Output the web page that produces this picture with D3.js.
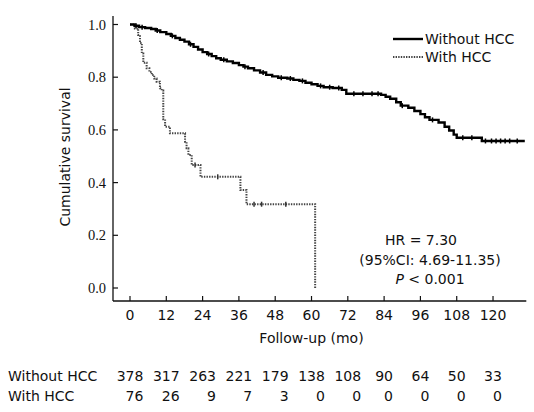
<!DOCTYPE html>
<html>
<head>
<meta charset="utf-8">
<script src="https://cdn.jsdelivr.net/npm/d3@7/dist/d3.min.js"></script>
<style>
  html, body { margin: 0; padding: 0; background: #fff; }
  svg { display: block; }
  .sans { font-family: "DejaVu Sans", Verdana, sans-serif; font-size: 14px; fill: #111; }
  .serif { font-family: "Liberation Serif", "Times New Roman", serif; font-size: 14.5px; fill: #111; }
</style>
</head>
<body>
<svg id="chart" width="534" height="412"></svg>
<script>
// ---- data ----
const xTicks = [0, 12, 24, 36, 48, 60, 72, 84, 96, 108, 120];
const yTicks = [0.0, 0.2, 0.4, 0.6, 0.8, 1.0];
const groups = ["Without HCC", "With HCC"];

const withoutTimes = [0, 1.5, 3, 5, 7, 8.5, 10, 12, 13.5, 15, 16.5, 18, 19.5, 21, 22.5, 24, 25.5, 27, 28.5, 30, 32, 34, 36, 37.5, 39, 41, 43, 45, 47, 49, 52, 54, 56, 58, 60, 62, 64, 67, 70, 71.5, 83, 84.5, 86, 88, 89.5, 92, 94, 96, 97.5, 99, 102, 104, 105.5, 107, 108, 116.3, 130.5];
const withoutSurv  = [1.0, 0.995, 0.99, 0.987, 0.983, 0.977, 0.971, 0.964, 0.957, 0.949, 0.942, 0.935, 0.925, 0.915, 0.905, 0.895, 0.888, 0.88, 0.872, 0.866, 0.86, 0.854, 0.846, 0.84, 0.834, 0.826, 0.818, 0.809, 0.803, 0.798, 0.795, 0.79, 0.786, 0.779, 0.773, 0.767, 0.762, 0.759, 0.752, 0.737, 0.733, 0.726, 0.718, 0.705, 0.692, 0.684, 0.672, 0.66, 0.648, 0.638, 0.628, 0.612, 0.598, 0.582, 0.57, 0.558, 0.558];
const withoutCensor = [2, 4, 9, 14, 20, 26, 31, 38, 44, 50, 53, 57, 63, 66, 69, 74, 77, 80, 82, 90, 100, 110, 113, 117.5, 119.5, 121, 122.5, 124, 125.5, 128];

const withTimes = [0, 1.6, 2.7, 3.3, 3.9, 4.4, 5.5, 6.4, 7.2, 8.0, 8.8, 9.9, 10.5, 11.0, 11.6, 13.2, 18.2, 18.7, 19.3, 20.4, 23.3, 36.5, 38.5, 61.2, 61.2];
const withSurv  = [1.0, 0.985, 0.96, 0.93, 0.89, 0.855, 0.834, 0.82, 0.808, 0.795, 0.783, 0.758, 0.75, 0.64, 0.612, 0.587, 0.555, 0.53, 0.505, 0.467, 0.422, 0.372, 0.318, 0.0, 0.0];
const withCensor = [21.5, 29, 41, 43.5, 51.5];

const atRiskWithout = [378, 317, 263, 221, 179, 138, 108, 90, 64, 50, 33];
const atRiskWith    = [76, 26, 9, 7, 3, 0, 0, 0, 0, 0, 0];

const statLines = ["HR = 7.30", "(95%CI: 4.69-11.35)", "P < 0.001"];

// ---- drawing ----
const svg = d3.select("#chart");
const x = d3.scaleLinear().domain([0, 131]).range([130, 526.3]);
const y = d3.scaleLinear().domain([0, 1]).range([288, 24.5]);
const axisX = 113, axisY = 301;

// axes lines
svg.append("line").attr("x1", axisX).attr("x2", axisX).attr("y1", 16).attr("y2", axisY)
  .attr("stroke", "#111").attr("stroke-width", 1.3);
svg.append("line").attr("x1", axisX).attr("x2", x(131)).attr("y1", axisY).attr("y2", axisY)
  .attr("stroke", "#111").attr("stroke-width", 1.3);

// y ticks
yTicks.forEach(v => {
  svg.append("line").attr("x1", axisX).attr("x2", axisX + 5).attr("y1", y(v)).attr("y2", y(v))
    .attr("stroke", "#111").attr("stroke-width", 1.2);
  svg.append("text").attr("class", "serif").attr("x", 106).attr("y", y(v) + 5)
    .attr("text-anchor", "end").text(v.toFixed(1));
});
// x ticks
xTicks.forEach(v => {
  svg.append("line").attr("x1", x(v)).attr("x2", x(v)).attr("y1", axisY).attr("y2", axisY - 5)
    .attr("stroke", "#111").attr("stroke-width", 1.2);
  svg.append("text").attr("class", "sans").attr("x", x(v)).attr("y", 320)
    .attr("text-anchor", "middle").text(v);
});

svg.append("text").attr("class", "sans").attr("x", x(60)).attr("y", 343)
  .attr("text-anchor", "middle").text("Follow-up (mo)");
svg.append("text").attr("class", "sans")
  .attr("transform", "translate(70,157) rotate(-90)")
  .attr("text-anchor", "middle").text("Cumulative survival");

// curves
const line = d3.line().x(d => x(d[0])).y(d => y(d[1])).curve(d3.curveStepAfter);
const withoutData = withoutTimes.map((t, i) => [t, withoutSurv[i]]);
const withData = withTimes.map((t, i) => [t, withSurv[i]]);

function survAt(times, surv, t) {
  let s = surv[0];
  for (let i = 0; i < times.length; i++) { if (times[i] <= t) s = surv[i]; }
  return s;
}

svg.append("path").attr("d", line(withData)).attr("fill", "none")
  .attr("stroke", "#444").attr("stroke-width", 2).attr("stroke-dasharray", "1.4,1.2");
svg.append("path").attr("d", line(withoutData)).attr("fill", "none")
  .attr("stroke", "#000").attr("stroke-width", 2.4);

withoutCensor.forEach(t => {
  const s = survAt(withoutTimes, withoutSurv, t);
  svg.append("line").attr("x1", x(t)).attr("x2", x(t)).attr("y1", y(s) - 2.5).attr("y2", y(s) + 2.5)
    .attr("stroke", "#000").attr("stroke-width", 1.5);
});
withCensor.forEach(t => {
  const s = survAt(withTimes, withSurv, t);
  svg.append("line").attr("x1", x(t)).attr("x2", x(t)).attr("y1", y(s) - 2.5).attr("y2", y(s) + 2.5)
    .attr("stroke", "#333").attr("stroke-width", 1.5);
});

// legend
const legY = [39, 57];
svg.append("line").attr("x1", 393).attr("x2", 423).attr("y1", legY[0]).attr("y2", legY[0])
  .attr("stroke", "#000").attr("stroke-width", 2.4);
svg.append("line").attr("x1", 393).attr("x2", 423).attr("y1", legY[1]).attr("y2", legY[1])
  .attr("stroke", "#444").attr("stroke-width", 2).attr("stroke-dasharray", "1.4,1.2");
groups.forEach((g, i) => {
  svg.append("text").attr("class", "sans").attr("x", 425).attr("y", legY[i] + 5).text(g);
});

// stats
svg.append("text").attr("class", "sans").attr("x", 421).attr("y", 245).attr("text-anchor", "middle").text(statLines[0]);
svg.append("text").attr("class", "sans").attr("x", 430).attr("y", 265).attr("text-anchor", "middle").text(statLines[1]);
const pt = svg.append("text").attr("class", "sans").attr("x", 430).attr("y", 284).attr("text-anchor", "middle");
pt.append("tspan").attr("font-style", "italic").text(statLines[2].slice(0, 1));
pt.append("tspan").text(statLines[2].slice(1));

// number at risk
svg.append("text").attr("class", "sans").attr("x", 8).attr("y", 381).text(groups[0]);
svg.append("text").attr("class", "sans").attr("x", 8).attr("y", 401).text(groups[1]);
xTicks.forEach((v, i) => {
  const t1 = svg.append("text").attr("class", "sans").attr("x", x(v)).attr("y", 381)
    .attr("text-anchor", "middle").text(atRiskWithout[i]);
  const w = t1.node().getComputedTextLength();
  svg.append("text").attr("class", "sans").attr("x", x(v) + w / 2).attr("y", 401)
    .attr("text-anchor", "end").text(atRiskWith[i]);
});
</script>
</body>
</html>
